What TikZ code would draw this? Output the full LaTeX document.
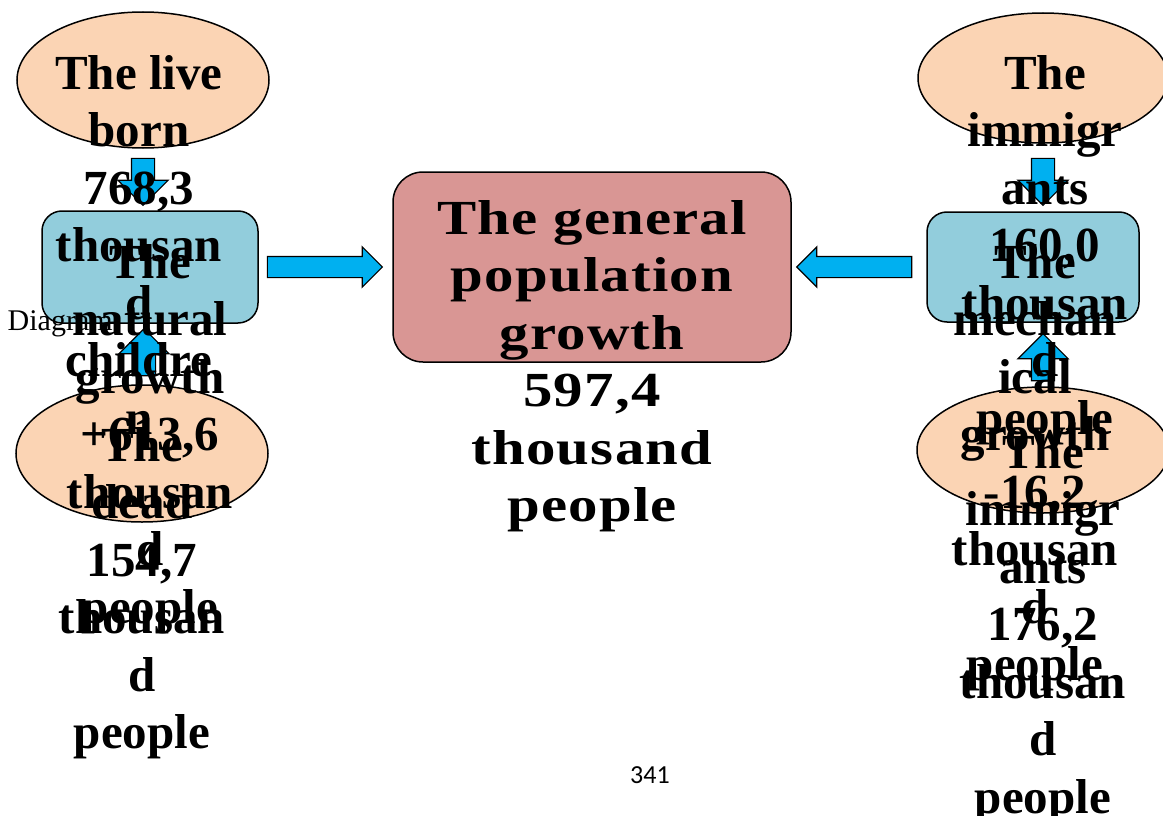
\documentclass[tikz,border=0pt]{standalone}
\usepackage{fontspec}
\setmainfont{Liberation Serif}
\newfontfamily\spacedserif[FakeStretch=1.2, LetterSpace=2.5]{Liberation Serif}
\newfontfamily\pagenumfont{Carlito}
\usetikzlibrary{shapes.geometric,shapes.arrows,calc,positioning}
\definecolor{peach}{HTML}{FBD4B4}
\definecolor{paleblue}{HTML}{92CDDC}
\definecolor{dustyrose}{HTML}{D99694}
\definecolor{arrowblue}{HTML}{00B0F0}

\begin{document}
\begin{tikzpicture}[x=1pt, y=-1pt, line width=1.5pt,
  oval/.style={ellipse, draw, fill=peach, inner sep=0pt},
  pane/.style={rectangle, rounded corners=20pt, draw, fill=paleblue, inner sep=0pt},
  fat/.style={single arrow, draw, fill=arrowblue, line width=1.2pt, minimum width=1pt,
    single arrow head indent=0pt, anchor=tail},
  bodytext/.style={anchor=north, inner sep=0pt, align=center,
    font=\fontsize{49}{57.5}\selectfont\bfseries}]
  \useasboundingbox (0,0) rectangle (1163,816);

  % left column
  \node[oval, minimum width=252pt, minimum height=136pt] (born) at (143,80) {};
  \node[pane, minimum width=216pt, minimum height=112pt] (natural) at (150,267) {};
  \node[oval, minimum width=252pt, minimum height=137pt] (dead) at (142,453.5) {};

  % centre
  \node[pane, rounded corners=30pt, fill=dustyrose, minimum width=398pt, minimum height=190pt] (general) at (592,267) {};

  % right column
  \node[oval, minimum width=250pt, minimum height=130pt] (immig) at (1043,78) {};
  \node[pane, minimum width=212pt, minimum height=110pt] (mech) at (1033,267) {};
  \node[oval, minimum width=252pt, minimum height=126pt] (emig) at (1043,450) {};

  % block arrows
  \node[fat, inner sep=11pt, single arrow head extend=13.5pt, minimum height=47pt, shape border rotate=270]
    (bornarrow) at ([yshift=-9pt]born.south) {};
  \node[fat, inner sep=11pt, single arrow head extend=13.5pt, minimum height=47pt, shape border rotate=90]
    (deadarrow) at ([xshift=2pt, yshift=8pt]dead.north) {};
  \node[fat, inner sep=10pt, single arrow head extend=9.5pt, minimum height=115pt]
    (leftarrow) at ([xshift=8pt]natural.east) {};
  \node[fat, inner sep=10pt, single arrow head extend=9.5pt, minimum height=115pt, shape border rotate=180]
    (rightarrow) at ([xshift=-14pt]mech.west) {};
  \node[fat, inner sep=11pt, single arrow head extend=13.5pt, minimum height=47pt, shape border rotate=270]
    (immigarrow) at ([yshift=-14pt]immig.south) {};
  \node[fat, inner sep=11pt, single arrow head extend=13.5pt, minimum height=47pt, shape border rotate=90]
    (emigarrow) at ([yshift=5pt]emig.north) {};

  \node[anchor=base west, inner sep=0pt, font=\fontsize{30}{36}\selectfont] (caption) at (7,330) {Diagram};
  \node[anchor=base, inner sep=0pt, font=\pagenumfont\fontsize{26}{30}\selectfont] (pagenum) at (650,783) {341};

  % texts on top
  \node[bodytext] (borntext) at ([xshift=-4pt, yshift=-43pt]born.north)
    {The live\\born\\768,3\\thousan\\d\\childre\\n};
  \node[bodytext] (naturaltext) at ([yshift=-33pt]natural.north)
    {The\\natural\\growth\\+613,6\\thousan\\d\\people};
  \node[bodytext] (deadtext) at ([yshift=-42pt]dead.north)
    {The\\dead\\154,7\\thousan\\d\\people};
  \node[bodytext, font=\spacedserif\fontsize{49}{57.5}\selectfont\bfseries] (generaltext) at ([yshift=-28pt]general.north)
    {The general\\population\\growth\\597,4\\thousand\\people};
  \node[bodytext] (immigtext) at ([xshift=2pt, yshift=-42pt]immig.north)
    {The\\immigr\\ants\\160,0\\thousan\\d\\people};
  \node[bodytext] (mechtext) at ([xshift=2pt, yshift=-32pt]mech.north)
    {The\\mechan\\ical\\growth\\-16,2\\thousan\\d\\people};
  \node[bodytext] (emigtext) at ([yshift=-47pt]emig.north)
    {The\\immigr\\ants\\176,2\\thousan\\d\\people};
\end{tikzpicture}
\end{document}
